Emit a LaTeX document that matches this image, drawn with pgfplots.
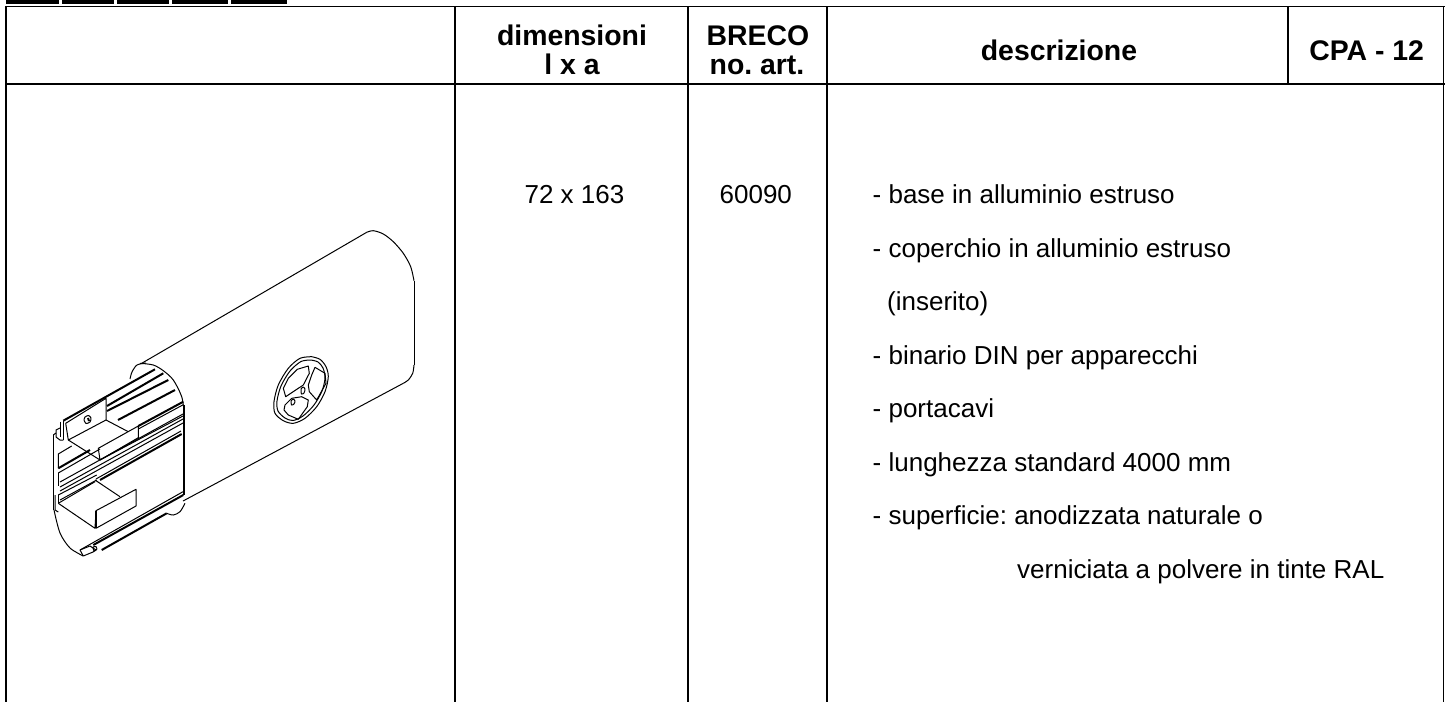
\documentclass[border=0pt]{standalone}
\usepackage{pgfplots}
\pgfplotsset{compat=1.18}
\usepackage{fontspec}
\setmainfont{Liberation Sans}
\frenchspacing
\newcommand{\bodyf}{\fontsize{26}{30}\selectfont}
\newcommand{\headf}{\fontsize{28.4}{28.5}\selectfont\bfseries}
\tikzset{
  tb/.style={black,line width=1.7pt,line cap=butt},
  d/.style={black,line width=1pt,line join=round},
  dk/.style={black,line width=2pt,line join=round},
  t/.style={anchor=base,inner sep=0pt,text=black}
}
\begin{document}
\begin{tikzpicture}
\begin{axis}[
  width=1446pt,height=702pt,scale only axis,hide axis,
  xmin=0,xmax=1446,ymin=0,ymax=702,y dir=reverse,clip=true
]
% page background (holds the picture's full extent)
\addplot[fill=white,draw=none] coordinates {(0,0)(1446,0)(1446,702)(0,702)};
% header bars
\addplot[fill=black,draw=none] coordinates {(6,0)(59,0)(59,3.5)(6,3.5)};
\addplot[fill=black,draw=none] coordinates {(62,0)(114,0)(114,3.5)(62,3.5)};
\addplot[fill=black,draw=none] coordinates {(117,0)(169,0)(169,3.5)(117,3.5)};
\addplot[fill=black,draw=none] coordinates {(172,0)(228,0)(228,3.5)(172,3.5)};
\addplot[fill=black,draw=none] coordinates {(231,0)(287,0)(287,3.5)(231,3.5)};
% table lines
\addplot[tb] coordinates {(5,6.5)(1444.5,6.5)};
\addplot[tb] coordinates {(5,84)(1444.5,84)};
\addplot[tb] coordinates {(6,6)(6,702)};
\addplot[tb] coordinates {(455,6)(455,702)};
\addplot[tb] coordinates {(688,6)(688,702)};
\addplot[tb] coordinates {(827,6)(827,702)};
\addplot[tb] coordinates {(1288,6)(1288,84)};
\addplot[tb] coordinates {(1443.5,6)(1443.5,702)};
% header text
\node[t] at (axis cs:572,45) {\headf dimensioni};
\node[t] at (axis cs:572,74) {\headf l x a};
\node[t] at (axis cs:758,45) {\headf BRECO};
\node[t] at (axis cs:757,74) {\headf no. art.};
\node[t] at (axis cs:1059,60) {\headf descrizione};
\node[t] at (axis cs:1366.7,60) {\headf CPA - 12};
% body text
\node[t] at (axis cs:574.5,203) {\bodyf 72 x 163};
\node[t] at (axis cs:755.8,203) {\bodyf 60090};
\node[t,anchor=base west] at (axis cs:872.5,203) {\bodyf - base in alluminio estruso};
\node[t,anchor=base west] at (axis cs:872.5,257) {\bodyf - coperchio in alluminio estruso};
\node[t,anchor=base west] at (axis cs:887,310) {\bodyf (inserito)};
\node[t,anchor=base west] at (axis cs:872.5,364) {\bodyf - binario DIN per apparecchi};
\node[t,anchor=base west] at (axis cs:872.5,417) {\bodyf - portacavi};
\node[t,anchor=base west] at (axis cs:872.5,471) {\bodyf - lunghezza standard 4000 mm};
\node[t,anchor=base west] at (axis cs:872.5,524) {\bodyf - superficie: anodizzata naturale o};
\node[t,anchor=base west] at (axis cs:1017,578) {\bodyf verniciata a polvere in tinte RAL};
% cover outline
\addplot[d] coordinates {(141.7,363.3)(366.7,232.3)};
\addplot[d,smooth] coordinates {(366.7,232.3)(373.3,230.7)(383.3,234)(393.3,241.7)(403.3,253.3)(410.7,266.7)(414,280.7)};
\addplot[d] coordinates {(414,280.7)(414,365)};
\addplot[d,smooth] coordinates {(414,365)(412.7,373.3)(408.3,380)(403.3,383.3)};
\addplot[d] coordinates {(403.3,383.3)(183,501)};
\addplot[d,smooth] coordinates {(166.7,513.3)(173.3,515)(180,511.7)(185,503.3)};
\addplot[d,smooth] coordinates {(130,379)(132,372)(137,365)(146,363)};
% profile outline
\addplot[d,smooth] coordinates {(140,363.3)(153.3,365)(163.3,370.7)(173.3,380)(181.7,396.7)(184.3,413.3)};
\addplot[dk] coordinates {(183.5,405)(183.5,495)};
\addplot[d] coordinates {(53.3,435)(53.3,510)};
\addplot[d,smooth] coordinates {(54,510)(60,533)(70,548)(83.3,556)};
% upper rails
\addplot[dk] coordinates {(63.3,420.7)(155,369.3)};
\addplot[dk] coordinates {(107,406)(163.3,373.3)};
\addplot[dk] coordinates {(107,411)(168.3,380)};
\addplot[dk] coordinates {(118,420)(175,390)};
\addplot[dk] coordinates {(138.3,426)(183.3,401.7)};
\addplot[d] coordinates {(138.3,429)(183.3,404.7)};
% upper bracket
\addplot[d] coordinates {(65.7,423.3)(106,398.3)(106,420)(68.3,440)(65.7,423.3)};
\addplot[d] coordinates {(68.3,440)(100,460)(98.3,448.3)(138.3,426)(138.3,437.7)(100,460)};
\addplot[d] coordinates {(106,420)(128.3,431.7)};
\addplot[d,smooth] coordinates {(84,420)(85,417)(88.5,415.5)(91,418)(90,422)(86,423.5)(84,420)};
\addplot[dk] coordinates {(88,418)(89,421)};
% left clip
\addplot[d] coordinates {(60,421.7)(60,437)};
\addplot[d] coordinates {(63.3,420.7)(63.3,440)};
\addplot[d] coordinates {(56,437)(56,430)(60,428)};
\addplot[d] coordinates {(56,437)(60,440)(63.3,440)};
\addplot[d] coordinates {(53.3,435)(56,433)};
% upper cell
\addplot[d] coordinates {(71.7,446)(58.3,454)(58.3,468.3)};
\addplot[dk] coordinates {(58.3,468.3)(90,450)};
\addplot[d] coordinates {(58.3,473)(58.3,486)};
\addplot[d] coordinates {(58.3,473)(100,449)};
% long bands
\addplot[d] coordinates {(100,460)(183,416)};
\addplot[d] coordinates {(60,482)(183,414)};
\addplot[d] coordinates {(60,487)(183,419)};
\addplot[d] coordinates {(60,491)(183,423)};
\addplot[d] coordinates {(58.3,495)(96.7,475)};
\addplot[d] coordinates {(60,500)(96.7,480)};
\addplot[dk] coordinates {(100,480)(181.7,434)};
\addplot[d] coordinates {(96,479)(181,431)};
% lower bracket
\addplot[d] coordinates {(58.3,503.3)(95,528.3)(96,510.7)(136,489.3)(136,506)(96,528.3)};
\addplot[dk] coordinates {(96,510.7)(96,528.3)};
\addplot[d] coordinates {(58.3,503.3)(95,481.7)};
\addplot[d] coordinates {(95,480)(120,496.7)};
\addplot[d] coordinates {(55,495)(55,510)(58.3,512)};
\addplot[d] coordinates {(58.3,495)(58.3,503.3)};
% lower rails
\addplot[d] coordinates {(80,550)(183,491.7)};
\addplot[dk] coordinates {(93.3,545)(183.3,495)};
\addplot[d] coordinates {(83.3,556)(93,552)};
\addplot[dk] coordinates {(101.7,550)(166.7,513.3)};
\addplot[d] coordinates {(80,550)(83.3,556)};
\addplot[d] coordinates {(80,550)(90,546)(96,550)(93,552)};
\addplot[d,smooth] coordinates {(93,547)(96,546.5)(97,549)(94,551)(93,547)};
% cable opening
\addplot[d,smooth] coordinates {(311.7,356.7)(320,359.3)(326,366.7)(328.3,376.7)(325,391.7)(316.7,406.7)(305,418.3)(293.3,423.3)(283.3,420.7)(275,413.3)(274,401.7)(278.3,385)(288.3,368.3)(300,358.3)(311.7,356.7)};
\addplot[d,smooth] coordinates {(311,360)(318,362)(323,368)(325,378)(322,391)(314,405)(303,416)(293,420.5)(285,418)(278,411)(277,401)(281,386)(290,371)(301,361.5)(311,360)};
\addplot[d] coordinates {(297.3,369.3)(308.3,366)(309.3,373.3)(303.3,385)(298.3,388.3)(285.7,396.7)(283.3,388.3)(288.3,378.3)(297.3,369.3)};
\addplot[d] coordinates {(315,367.3)(325,373.3)(326,383.3)(316.7,400)(309.3,391.7)(308.3,385)(311.7,375)(315,367.3)};
\addplot[d] coordinates {(291.7,398.3)(301.7,396.7)(308.3,400)(307.3,406.7)(298.3,419.3)(288.3,415)(284,410)(285,405)(291.7,398.3)};
\addplot[d,smooth] coordinates {(301,389)(303,387)(305,389)(304,393)(301.5,394)(301,389)};
\addplot[d,smooth] coordinates {(291,401)(293,399)(295,401)(294,404)(291.5,405)(291,401)};
\end{axis}
\end{tikzpicture}
\end{document}
